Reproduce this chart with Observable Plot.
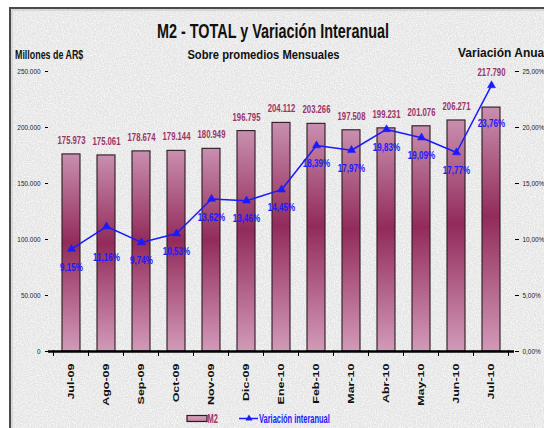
<!DOCTYPE html>
<html><head><meta charset="utf-8">
<script src="https://cdn.jsdelivr.net/npm/d3@7"></script>
<script src="https://cdn.jsdelivr.net/npm/@observablehq/plot@0.6"></script>
<style>
body{margin:0;background:#fff;}
#wrap{position:relative;width:544px;height:428px;overflow:hidden;background:#fff;font-family:"Liberation Sans",Arial,sans-serif;}
#bg{position:absolute;left:0;top:0;}
#chart{position:absolute;left:0;top:0;}
#over{position:absolute;left:0;top:0;}
</style></head>
<body>
<div id="wrap">
<svg id="bg" width="544" height="428">
  <defs>
    <filter id="noise" x="0" y="0" width="100%" height="100%">
      <feTurbulence type="fractalNoise" baseFrequency="0.85" numOctaves="2" seed="4"/>
      <feColorMatrix type="matrix" values="0 0 0 0 1  0 0 0 0 1  0 0 0 0 1  1.8 0 0 0 -0.66"/>
    </filter>
  </defs>
  <rect x="9" y="7" width="560" height="440" fill="#e4e4e4"/>
  <rect x="9" y="7" width="560" height="440" filter="url(#noise)"/>
  <path d="M10,440 L10,8 L560,8" fill="none" stroke="#4a4a4a" stroke-width="2"/>
  <path d="M12,440 L12,10 L560,10" fill="none" stroke="#c4c4c4" stroke-width="1"/>
</svg>
<div id="chart"></div>
<svg id="over" width="544" height="428"></svg>
</div>
<script>
const months = ["Jul-09","Ago-09","Sep-09","Oct-09","Nov-09","Dic-09","Ene-10","Feb-10","Mar-10","Abr-10","May-10","Jun-10","Jul-10"];
const m2Values = [175973,175061,178674,179144,180949,196795,204112,203266,197508,199231,201076,206271,217790];
const variacion = [9.15,11.16,9.74,10.53,13.62,13.46,14.45,18.39,17.97,19.83,19.09,17.77,23.76];
const leftTicks = [0,50000,100000,150000,200000,250000];
const rightTicks = [0,5,10,15,20,25];
const title = "M2 - TOTAL y Variación Interanual";
const subtitle = "Sobre promedios Mensuales";
const leftLabel = "Millones de AR$";
const rightLabel = "Variación Anual";
const seriesNames = ["M2","Variación interanual"];

const PCT = 10000; // 25% maps onto 250.000 on the shared y scale
const loc = d3.formatLocale({decimal:",",thousands:".",grouping:[3],currency:["$",""]});
const fmtInt = loc.format(",d");
const fmtPct = loc.format(".2f");

const data = months.map((m,i)=>({month:m, m2:m2Values[i], pct:variacion[i]}));
const last = months[months.length-1];

const FONT = '"Liberation Sans",Arial,sans-serif';
const BLUE = "#1a1aff";
const PLUM = "#993366";

const chart = Plot.plot({
  width:544, height:428,
  marginLeft:48, marginRight:30, marginTop:71, marginBottom:77,
  style:{background:"transparent", fontFamily:FONT, overflow:"visible", color:"#222"},
  x:{domain:months, paddingInner:0.5, paddingOuter:0.25, label:null},
  y:{domain:[0,250000], label:null},
  marks:[
    Plot.barY(data,{x:"month", y:"m2", fill:"url(#m2grad)", stroke:"#2a1a22", strokeWidth:1.1}),
    Plot.axisY({ticks:leftTicks, tickFormat:fmtInt, tickSize:3, tickPadding:5, fontSize:8, line:true, label:null, stroke:"#000"}),
    Plot.axisY({anchor:"right", ticks:rightTicks.map(p=>p*PCT), tickFormat:d=>fmtPct(d/PCT)+"%", tickSize:4, tickPadding:4, fontSize:8, line:true, label:null, stroke:"#000"}),
    Plot.axisX({tickSize:0, tickPadding:12, tickRotate:-90, fontSize:12.5, fontWeight:"bold", label:null, fill:"#111"}),
    Plot.ruleY([0],{stroke:"#000", strokeWidth:2.5}),
    Plot.text(data,{filter:d=>d.month!==last, x:"month", y:"m2", text:d=>fmtInt(d.m2), dy:-14, fill:PLUM, fontWeight:"bold", fontSize:11}),
    Plot.text(data,{filter:d=>d.month===last, x:"month", y:"m2", text:d=>fmtInt(d.m2), dy:-35, fill:PLUM, fontWeight:"bold", fontSize:11}),
    Plot.line(data,{x:"month", y:d=>d.pct*PCT, stroke:BLUE, strokeWidth:1.5}),
    Plot.dot(data,{x:"month", y:d=>d.pct*PCT, symbol:"triangle", r:3, fill:BLUE, stroke:BLUE, strokeWidth:0.5}),
    Plot.text(data,{filter:d=>d.month!=="Ago-09" && d.month!==last, x:"month", y:d=>d.pct*PCT, text:d=>fmtPct(d.pct)+"%", dy:18, fill:BLUE, fontWeight:"bold", fontSize:11.5}),
    Plot.text(data,{filter:d=>d.month==="Ago-09", x:"month", y:d=>d.pct*PCT, text:d=>fmtPct(d.pct)+"%", dy:31, fill:BLUE, fontWeight:"bold", fontSize:11.5}),
    Plot.text(data,{filter:d=>d.month===last, x:"month", y:d=>d.pct*PCT, text:d=>fmtPct(d.pct)+"%", dy:38, fill:BLUE, fontWeight:"bold", fontSize:11.5})
  ]
});
document.getElementById("chart").appendChild(chart);

const svg = d3.select(chart);
const defs = svg.insert("defs",":first-child");
const g = defs.append("linearGradient").attr("id","m2grad").attr("x1",0).attr("y1",0).attr("x2",0).attr("y2",1);
g.append("stop").attr("offset","0").attr("stop-color","#c98fae");
g.append("stop").attr("offset","0.45").attr("stop-color","#922b5b");
g.append("stop").attr("offset","1").attr("stop-color","#d29ab8");

// condense helper: narrow text like the original's squeezed Arial
function condense(sel, k){
  sel.each(function(){
    const L = this.getComputedTextLength();
    if (L > 0) { this.setAttribute("textLength", (L*k).toFixed(2)); this.setAttribute("lengthAdjust","spacingAndGlyphs"); }
  });
}
condense(svg.selectAll('g[aria-label="y-axis tick label"] text'), 0.8);
condense(svg.selectAll('g[aria-label="text"] text'), 0.7);
svg.selectAll('g[aria-label="x-axis tick label"] text').each(function(){
  const t = this.getAttribute("transform") || "";
  this.setAttribute("transform", t + " scale(1,0.72)");
});

// category boundary ticks (Excel style) from the x band scale
const sx = chart.scale("x"), sy = chart.scale("y");
const gap = (sx.step - sx.bandwidth)/2;
const y0 = sy.apply(0);
const bounds = months.map(m=>sx.apply(m)-gap).concat([sx.apply(last)+sx.bandwidth+gap]);
svg.append("g").selectAll("line").data(bounds).join("line")
  .attr("x1",d=>d).attr("x2",d=>d).attr("y1",y0-1).attr("y2",y0+5)
  .attr("stroke","#000").attr("stroke-width",1);

// titles and legend
const ov = d3.select("#over");
function txt(s, x, y, size, anchor, fill, k){
  const t = ov.append("text").attr("x",x).attr("y",y).attr("font-size",size).attr("font-weight","bold")
    .attr("font-family",FONT).attr("text-anchor",anchor).attr("fill",fill).text(s);
  condense(t, k);
  return t;
}
txt(title, 273, 38, 20, "middle", "#111", 0.72);
txt(subtitle, 263.5, 59, 13, "middle", "#111", 0.86);
txt(leftLabel, 15, 58.5, 12, "start", "#111", 0.74);
txt(rightLabel, 458, 57, 12, "start", "#111", 1.0);

const ldefs = ov.append("defs");
const lg2 = ldefs.append("linearGradient").attr("id","lgrad").attr("x1",0).attr("y1",0).attr("x2",0).attr("y2",1);
lg2.append("stop").attr("offset","0").attr("stop-color","#d8a6c0");
lg2.append("stop").attr("offset","1").attr("stop-color","#c283a4");
ov.append("rect").attr("x",187).attr("y",415.5).attr("width",20).attr("height",6).attr("fill","url(#lgrad)").attr("stroke","#2a1a22").attr("stroke-width",1.2);
txt(seriesNames[0], 207.5, 422.5, 12, "start", PLUM, 0.62);
ov.append("line").attr("x1",239).attr("x2",258).attr("y1",418.5).attr("y2",418.5).attr("stroke",BLUE).attr("stroke-width",1.5);
ov.append("path").attr("d",d3.symbol(d3.symbolTriangle,22)()).attr("transform","translate(249,418.5)").attr("fill",BLUE);
txt(seriesNames[1], 259, 422.5, 12, "start", BLUE, 0.62);
</script>
</body></html>
